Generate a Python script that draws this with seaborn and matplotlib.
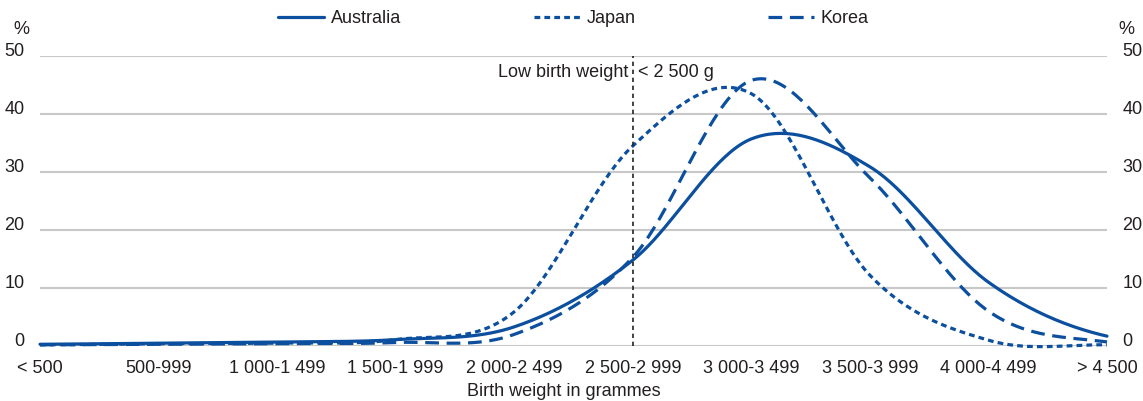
import numpy as np
import pandas as pd
import matplotlib
matplotlib.use("Agg")
import matplotlib.pyplot as plt
from matplotlib import font_manager as fm
from matplotlib.lines import Line2D
import seaborn as sns

# Birth weight distribution (% of live births) by weight band
categories = ["< 500", "500-999", "1 000-1 499", "1 500-1 999", "2 000-2 499",
              "2 500-2 999", "3 000-3 499", "3 500-3 999", "4 000-4 499", "> 4 500"]
australia = [0.3, 0.5, 0.7, 1.1, 3.3, 14.8, 35.7, 30.9, 11.0, 1.7]
japan = [0.2, 0.4, 0.5, 1.1, 5.9, 34.5, 43.5, 12.2, 1.0, 0.2]
korea = [0.2, 0.3, 0.4, 0.6, 2.0, 15.3, 45.8, 29.0, 6.0, 0.7]
y_ticks = [0, 10, 20, 30, 40, 50]
low_weight_band = "2 500-2 999"

BLUE = "#0B4F9E"
TEXT = "#231F20"
GRID = "#C8C8C8"

sns.set_theme(style="white")
names = {f.name for f in fm.fontManager.ttflist}
if "Liberation Sans Narrow" in names:
    family, fs = "Liberation Sans Narrow", 14
else:
    family, fs = "Liberation Sans", 13
plt.rcParams["font.family"] = [family, "DejaVu Sans"]
plt.rcParams["text.color"] = TEXT
em = fs * 100 / 72.0  # font size in pixels


def smooth_path(values, steps=40):
    """Cardinal (Catmull-Rom) spline through evenly spaced points."""
    v = np.asarray(values, dtype=float)
    ext = np.concatenate([[v[0]], v, [v[-1]]])
    xs, ys = [], []
    for i in range(len(v) - 1):
        p0, p1 = ext[i + 1], ext[i + 2]
        m0 = (ext[i + 2] - ext[i]) / 2.0
        m1 = (ext[i + 3] - ext[i + 1]) / 2.0
        t = np.linspace(0, 1, steps, endpoint=(i == len(v) - 2))
        h00 = 2 * t**3 - 3 * t**2 + 1
        h10 = t**3 - 2 * t**2 + t
        h01 = -2 * t**3 + 3 * t**2
        h11 = t**3 - t**2
        xs.append(i + t)
        ys.append(h00 * p0 + h10 * m0 + h01 * p1 + h11 * m1)
    return np.concatenate(xs), np.concatenate(ys)


series = {"Australia": australia, "Japan": japan, "Korea": korea}
frames = []
for name, vals in series.items():
    sx, sy = smooth_path(vals)
    frames.append(pd.DataFrame({"pos": sx, "share": sy, "country": name}))
df = pd.concat(frames, ignore_index=True)

dash_map = {"Australia": "", "Japan": (1.8, 1.3), "Korea": (4.3, 2.4)}

fig = plt.figure(figsize=(11.43, 4.01), dpi=100)
ax = fig.add_axes([40 / 1143, 1 - 346 / 401, 1067 / 1143, 290 / 401])

sns.lineplot(data=df, x="pos", y="share", style="country", dashes=dash_map,
             color=BLUE, linewidth=2.3, sort=False, estimator=None,
             legend=False, ax=ax, clip_on=False, zorder=3)

ax.set_xlim(0, len(categories) - 1)
ax.set_ylim(0, 50)
ax.set_xticks(range(len(categories)))
ax.set_xticklabels(categories)
ax.set_yticks(y_ticks)
ax.set_yticklabels([str(v) for v in y_ticks])

for s in ax.spines.values():
    s.set_visible(False)
ax.yaxis.grid(True, color=GRID, linewidth=1.5)
ax.xaxis.grid(False)
ax.set_axisbelow(True)

ax.tick_params(axis="x", direction="in", length=7, width=1.2, color=GRID,
               labelsize=fs, labelcolor=TEXT, pad=10)
ax.tick_params(axis="y", length=0, labelsize=fs, labelcolor=TEXT, pad=11,
               labelleft=True, labelright=True)
for tick in ax.yaxis.get_major_ticks():
    tick.label1.set_va("baseline")
    tick.label2.set_va("baseline")

ax.set_xlabel("Birth weight in grammes", fontsize=fs, color=TEXT, va="center")
ax.xaxis.set_label_coords((564 - 40) / 1067, (346 - 392) / 290)
ax.set_ylabel("")

# Low birth weight threshold
xv = categories.index(low_weight_band)
ax.vlines(xv, 0, 50, colors="#222222", linewidth=1.2,
          linestyles=(0, (2.6, 2.2)), zorder=4)
ax.annotate("Low birth weight", xy=(xv, 47.2), xytext=(-3, 0),
            textcoords="offset points", ha="right", va="center",
            fontsize=fs, color=TEXT)
ax.annotate("< 2 500 g", xy=(xv, 47.2), xytext=(3.5, 0),
            textcoords="offset points", ha="left", va="center",
            fontsize=fs, color=TEXT)

# Unit labels on both sides
fig.text(21 / 1143, 1 - 29 / 401, "%", ha="center", va="center",
         fontsize=fs, color=TEXT)
fig.text(1126 / 1143, 1 - 29 / 401, "%", ha="center", va="center",
         fontsize=fs, color=TEXT)

handles = []
for name in series:
    h = Line2D([0], [0], color=BLUE, linewidth=2.3)
    if dash_map[name]:
        h.set_dashes(dash_map[name])
    handles.append(h)
fig.legend(handles, list(series.keys()), loc="upper center",
           bbox_to_anchor=(573.5 / 1143, 1 - 10 / 401), ncol=3, frameon=False,
           fontsize=fs, handlelength=46 / em, handletextpad=7 / em,
           columnspacing=132 / em, borderpad=0, borderaxespad=0)

fig.savefig("out.png", dpi=100)
